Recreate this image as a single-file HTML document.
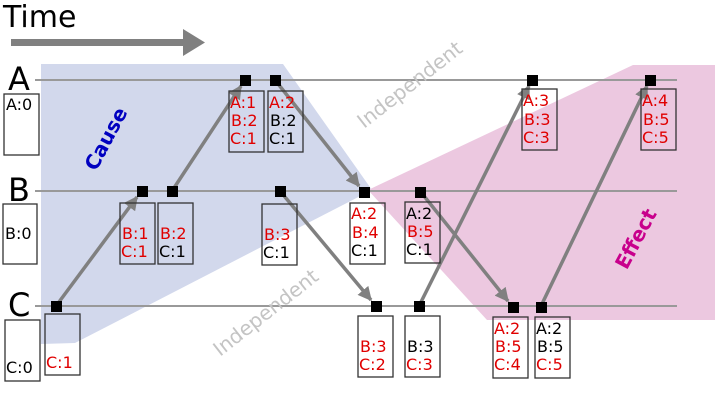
<!DOCTYPE html>
<html><head><meta charset="utf-8"><style>
html,body{margin:0;padding:0;background:#fff;}
svg{display:block;}
text{font-family:"DejaVu Sans","Liberation Sans",sans-serif;}
.r{fill:#e00000}
.k{fill:#000}
.bx{fill:none;stroke:#333;stroke-width:1.3}
.ln{stroke:#999;stroke-width:2}
.ar{stroke:#808080;stroke-width:3.5;fill:none;marker-end:url(#ah)}
</style></head><body>
<svg width="720" height="407" viewBox="0 0 720 407" xmlns="http://www.w3.org/2000/svg">
<defs>
<marker id="ah" viewBox="0 0 10 10" refX="9" refY="5" markerWidth="4" markerHeight="4" orient="auto" markerUnits="strokeWidth">
<path d="M0,0 L10,5 L0,10 z" fill="#808080"/>
</marker>
</defs>
<polygon points="41,64 283,64 372,190 75,343 41,344" fill="#d2d8ec"/>
<polygon points="368,190 633,65 715,65 715,320 487,320" fill="#ecc8e0"/>
<text x="3" y="27" font-size="30" fill="#000">Time</text>
<rect x="11" y="39" width="174" height="7" fill="#808080"/>
<polygon points="183,29 205,42.5 183,56" fill="#808080"/>
<line class="ln" x1="35" y1="80" x2="677" y2="80"/>
<line class="ln" x1="35" y1="191" x2="677" y2="191"/>
<line class="ln" x1="35" y1="306" x2="677" y2="306"/>
<text x="8" y="90" font-size="32">A</text>
<text x="8" y="201" font-size="32">B</text>
<text x="8" y="316" font-size="32">C</text>
<text transform="translate(112,142) rotate(-62)" font-size="20" font-weight="bold" fill="#0000c0" text-anchor="middle">Cause</text>
<text transform="translate(642,242) rotate(-62)" font-size="20" font-weight="bold" fill="#c8008c" text-anchor="middle">Effect</text>
<text transform="translate(414,90) rotate(-38)" font-size="20" fill="#c4c4c4" text-anchor="middle">Independent</text>
<text transform="translate(270,318) rotate(-38)" font-size="20" fill="#c4c4c4" text-anchor="middle">Independent</text>
<line class="ar" x1="56" y1="306" x2="137" y2="197"/>
<line class="ar" x1="172" y1="191" x2="241" y2="86"/>
<line class="ar" x1="275" y1="80" x2="359" y2="186"/>
<line class="ar" x1="280" y1="191" x2="371" y2="300"/>
<line class="ar" x1="420" y1="191" x2="508" y2="301"/>
<line class="ar" x1="419" y1="306" x2="529" y2="86"/>
<line class="ar" x1="541" y1="306" x2="647" y2="86"/>
<g fill="#000">
<rect x="240" y="75" width="11" height="11"/><rect x="270" y="75" width="11" height="11"/>
<rect x="527" y="75" width="11" height="11"/><rect x="645" y="75" width="11" height="11"/>
<rect x="137" y="186" width="11" height="11"/><rect x="167" y="186" width="11" height="11"/>
<rect x="275" y="186" width="11" height="11"/><rect x="359" y="187" width="11" height="11"/>
<rect x="415" y="187" width="11" height="11"/>
<rect x="51" y="301" width="11" height="11"/><rect x="371" y="301" width="11" height="11"/>
<rect x="414" y="301" width="11" height="11"/><rect x="508" y="302" width="11" height="11"/>
<rect x="536" y="302" width="11" height="11"/>
</g>
<g font-size="16">
<rect class="bx" x="4" y="94" width="35" height="61" fill="#fff" style="fill:#fff"/>
<text x="6" y="110" class="k">A:0</text>
<rect class="bx" x="3" y="204" width="34" height="60" style="fill:#fff"/>
<text x="5" y="239" class="k">B:0</text>
<rect class="bx" x="5" y="320" width="35" height="61" style="fill:#fff"/>
<text x="6" y="373" class="k">C:0</text>
<rect class="bx" x="45" y="314" width="35" height="61"/>
<text x="46" y="368" class="r">C:1</text>
<rect class="bx" x="120" y="203" width="35" height="61"/>
<text x="122" y="239" class="r">B:1</text><text x="121" y="257" class="r">C:1</text>
<rect class="bx" x="158" y="203" width="35" height="61"/>
<text x="160" y="239" class="r">B:2</text><text x="159" y="257" class="k">C:1</text>
<rect class="bx" x="262" y="204" width="35" height="61"/>
<text x="264" y="240" class="r">B:3</text><text x="263" y="258" class="k">C:1</text>
<rect class="bx" x="229" y="91" width="35" height="61"/>
<text x="230" y="108" class="r">A:1</text><text x="231" y="126" class="r">B:2</text><text x="230" y="144" class="r">C:1</text>
<rect class="bx" x="268" y="91" width="35" height="61"/>
<text x="269" y="108" class="r">A:2</text><text x="270" y="126" class="k">B:2</text><text x="269" y="144" class="k">C:1</text>
<rect class="bx" x="350" y="203" width="35" height="61"/>
<text x="351" y="219" class="r">A:2</text><text x="352" y="238" class="r">B:4</text><text x="351" y="256" class="k">C:1</text>
<rect class="bx" x="405" y="202" width="35" height="61"/>
<text x="406" y="219" class="k">A:2</text><text x="407" y="237" class="r">B:5</text><text x="406" y="255" class="k">C:1</text>
<rect class="bx" x="358" y="316" width="35" height="61"/>
<text x="360" y="352" class="r">B:3</text><text x="359" y="370" class="r">C:2</text>
<rect class="bx" x="405" y="316" width="35" height="61"/>
<text x="407" y="352" class="k">B:3</text><text x="406" y="370" class="r">C:3</text>
<rect class="bx" x="493" y="317" width="35" height="61"/>
<text x="494" y="334" class="r">A:2</text><text x="495" y="352" class="r">B:5</text><text x="494" y="370" class="r">C:4</text>
<rect class="bx" x="535" y="317" width="35" height="61"/>
<text x="536" y="334" class="k">A:2</text><text x="537" y="352" class="k">B:5</text><text x="536" y="370" class="r">C:5</text>
<rect class="bx" x="522" y="89" width="35" height="61"/>
<text x="523" y="106" class="r">A:3</text><text x="524" y="125" class="r">B:3</text><text x="523" y="143" class="r">C:3</text>
<rect class="bx" x="641" y="89" width="35" height="61"/>
<text x="642" y="106" class="r">A:4</text><text x="643" y="125" class="r">B:5</text><text x="642" y="143" class="r">C:5</text>
</g>
</svg>
</body></html>
